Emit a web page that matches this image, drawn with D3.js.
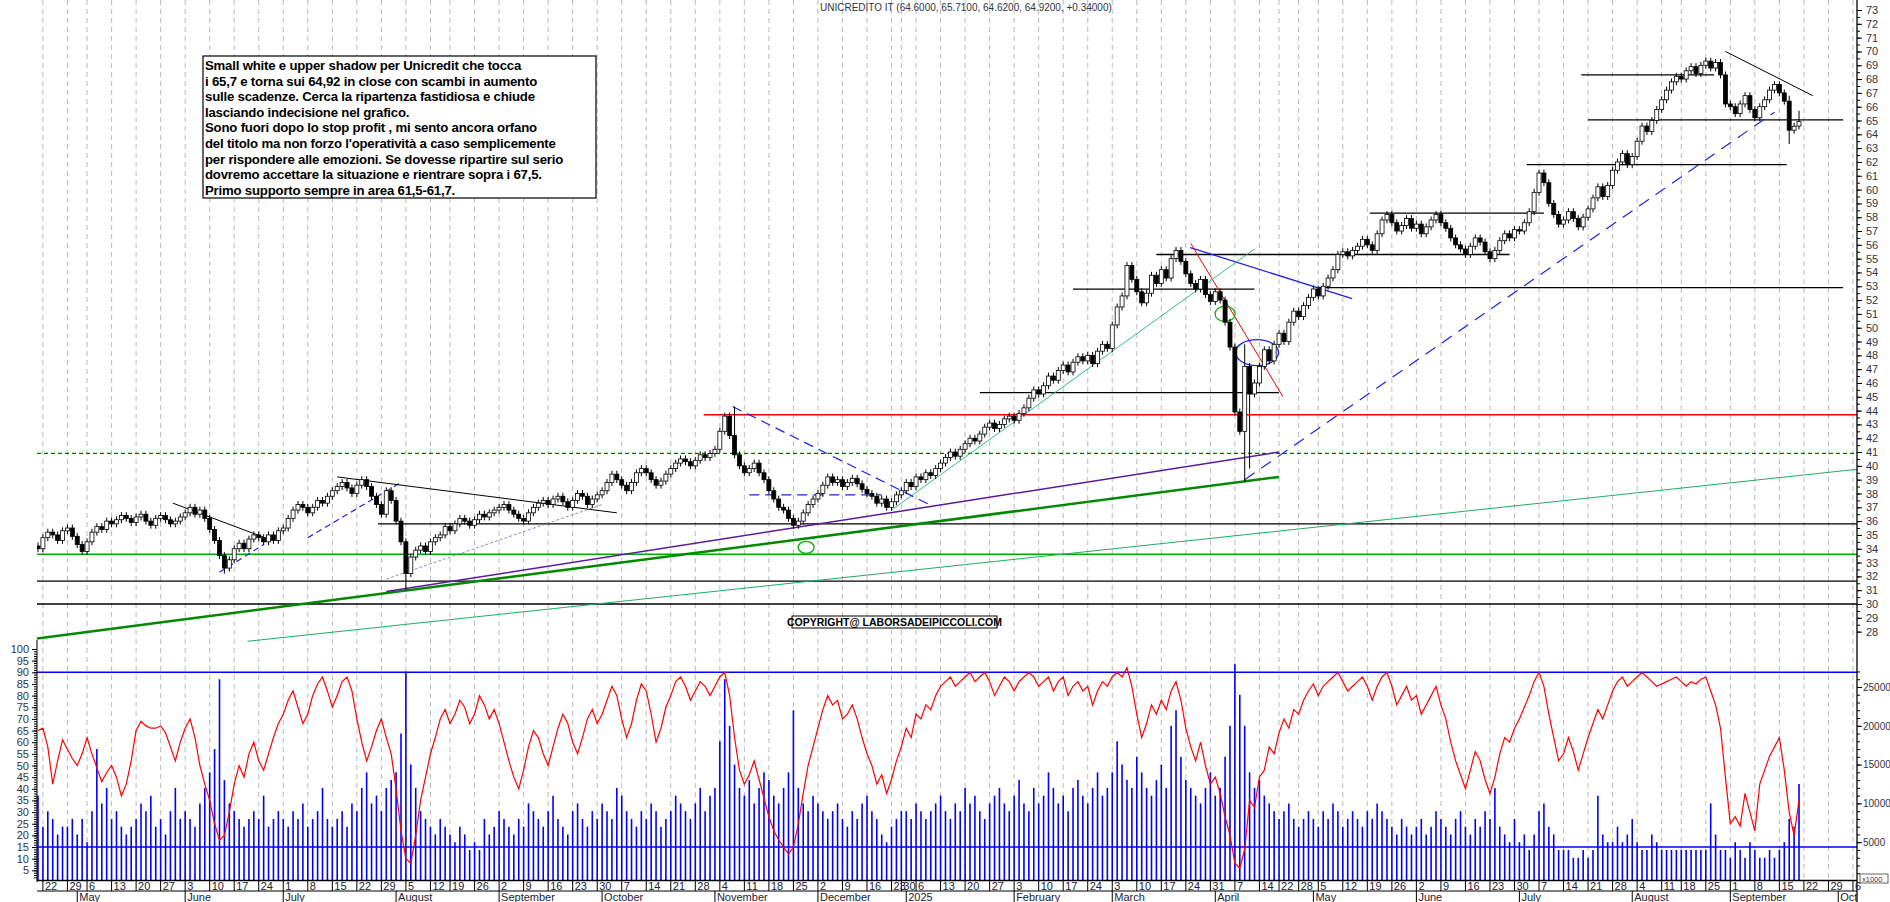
<!DOCTYPE html>
<html><head><meta charset="utf-8">
<script src="https://cdn.jsdelivr.net/npm/d3@7/dist/d3.min.js"></script>
<style>body{margin:0;background:#fff}svg{display:block;font-family:"Liberation Sans",Arial,sans-serif}</style>
</head><body><svg id="c" width="1890" height="902"></svg>
<script>
// ---- data ----
const closes = [
34.0,34.8,35.2,35.0,34.6,35.3,35.5,34.9,
34.3,33.8,34.5,35.2,35.6,35.4,36.0,35.8,36.1,36.4,36.2,35.9,36.3,36.5,36.0,35.7,36.2,36.4,36.1,35.8,36.0,36.3,
36.6,37.0,36.5,36.8,36.2,35.4,34.6,33.5,32.6,33.2,34.0,34.4,34.0,34.7,35.0,34.8,34.5,35.0,34.6,35.3,
35.5,36.2,36.8,37.2,37.0,36.6,37.0,37.5,37.3,37.8,38.2,38.5,38.8,38.4,38.0,38.6,39.0,38.5,37.8,37.2,36.5,38.2,37.5,
36.0,34.5,32.2,33.4,33.9,34.2,33.8,34.5,34.8,35.0,35.6,35.3,35.8,36.2,36.0,35.7,36.1,36.5,36.3,36.6,36.8,
37.0,37.2,36.8,36.5,36.2,36.0,36.6,37.0,37.3,37.5,37.2,37.6,37.8,37.4,37.0,37.5,38.0,37.8,37.2,37.6,37.9,
38.2,38.8,39.4,39.0,38.6,38.2,38.8,39.5,39.8,39.5,39.0,38.6,38.9,39.4,39.8,40.2,40.5,40.3,40.0,40.4,40.8,40.6,40.9,
41.2,42.5,43.6,42.2,40.8,40.0,39.5,39.8,40.2,39.5,39.0,38.2,37.6,37.0,36.8,36.2,35.7,36.0,36.6,37.2,37.6,
38.0,38.6,39.2,38.8,39.0,38.5,38.8,39.1,38.7,38.3,38.0,37.8,37.3,37.6,37.0,37.4,37.9,38.2,
38.8,38.5,39.2,39.0,39.5,39.3,39.8,40.2,40.6,41.0,40.7,41.2,41.6,42.0,41.8,42.3,42.8,43.1,42.7,43.0,43.4,43.6,
43.3,43.8,44.2,44.9,45.5,45.2,45.8,46.5,46.2,46.9,47.3,46.8,47.5,47.9,47.6,48.0,47.4,48.3,48.8,48.5,
50.2,51.5,52.3,54.5,53.5,52.6,51.8,52.5,53.8,53.2,54.2,53.6,55.0,55.6,54.8,53.9,53.2,52.8,53.5,52.4,51.9,
52.6,52.0,50.4,48.6,43.9,42.5,47.2,45.2,46.0,47.2,48.4,47.6,48.8,49.6,49.0,50.4,51.2,50.8,51.6,52.2,
52.8,52.3,53.0,53.6,54.2,55.3,55.5,55.2,55.6,55.9,56.4,56.0,55.6,56.8,57.8,58.2,57.6,57.0,57.4,57.9,57.2,
57.5,56.8,57.3,57.8,58.2,57.6,57.2,56.5,56.0,55.7,55.3,55.9,56.5,56.2,55.5,55.0,55.6,56.3,56.8,56.5,57.1,
57.0,57.6,58.4,59.8,61.2,60.5,59.0,58.2,57.5,57.8,58.4,57.9,57.3,58.0,58.6,59.4,60.2,59.5,60.3,61.4,62.0,62.6,61.8,
62.4,63.5,64.6,64.2,65.0,65.8,66.5,67.2,67.8,68.2,68.0,68.6,68.9,68.4,69.0,69.3,68.8,69.2,68.3,66.2,
66.0,65.5,66.2,66.8,65.8,65.2,66.0,66.5,67.2,67.6,67.0,66.4,64.3,64.58,64.92];
// extra wick extremes for notable sessions: [index, high, low]
const wickOverrides = [[75,34.6,31.0],[246,48.8,38.8],[247,44.4,39.8],[357,66.8,63.3],[359,65.71,64.4],[142,44.3,42.0],[38,33.6,32.2]];
const volumes = [ // thousands
11,7,9,8,6,7,7,8,
6,8,5,9,17,10,12,8,9,7,6,7,8,10,9,11,7,8,6,9,12,8,
9,8,7,10,12,14,17,26,13,10,9,8,7,8,9,8,11,7,8,9,
8,7,9,8,10,7,8,9,12,8,7,8,9,7,10,9,12,14,10,11,9,12,13,
14,19,27,15,12,9,8,7,6,8,7,6,5,7,6,4,5,4,8,6,7,
9,8,7,6,8,7,10,9,8,7,9,11,8,7,6,9,10,8,7,9,8,
10,9,8,12,11,9,8,7,9,8,10,9,7,8,9,11,10,9,8,10,12,9,11,
12,18,26,20,15,12,11,13,10,12,14,13,11,10,12,14,22,12,10,9,11,
10,9,8,9,10,8,7,9,8,10,11,9,8,6,5,7,8,9,
9,8,10,9,8,9,10,11,9,8,10,9,12,10,11,9,8,10,11,12,10,9,
11,13,10,9,12,10,11,14,12,10,11,9,12,13,11,10,12,14,11,12,
14,18,15,13,12,16,14,12,11,13,15,12,20,22,16,13,12,11,10,12,14,
11,12,16,20,28,24,20,14,12,13,11,10,9,8,9,10,8,7,8,9,
8,7,9,8,10,9,7,8,9,8,7,9,8,10,9,8,7,6,8,7,6,
7,8,6,7,9,8,7,6,8,9,7,6,8,7,9,8,12,7,6,5,8,
5,6,4,6,9,10,7,6,4,4,4,3,3,4,3,4,11,6,5,5,7,5,6,
8,5,4,4,6,5,4,4,4,4,4,4,4,4,4,4,10,6,4,4,
3,5,4,3,5,4,3,3,4,3,4,5,8,7,12.5];
const oscillator = [
65,66,58,42,52,61,57,53,
50,55,62,55,49,43,47,50,45,37,42,52,65,69,67,66,66,67,64,58,52,60,
66,70,62,50,42,35,25,18,20,30,42,50,45,55,60,52,48,55,62,68,
72,78,82,75,68,72,80,85,88,82,75,80,86,88,82,70,60,52,58,65,70,62,55,
40,22,10,8,20,35,45,55,62,70,74,68,72,78,75,68,72,80,76,70,74,
68,60,52,45,40,48,58,65,62,55,50,58,66,72,68,60,55,62,70,74,68,
72,78,84,80,70,62,68,78,85,82,72,60,66,75,80,86,88,84,78,82,86,84,80,
84,88,90,80,62,48,42,46,52,44,36,28,22,18,15,12,15,25,38,50,58,
66,74,80,76,78,70,72,76,70,62,55,50,42,46,38,44,52,58,
66,62,72,70,76,74,80,84,86,88,84,86,88,90,86,88,90,86,80,84,88,86,
82,86,88,90,88,84,86,88,82,86,88,80,84,86,82,84,76,82,86,84,
88,90,88,92,84,72,62,68,76,72,78,74,82,86,78,66,58,52,60,50,42,
45,38,28,20,8,6,14,35,32,45,48,58,55,64,70,66,74,72,78,82,
85,80,84,86,88,90,86,82,84,86,88,84,78,84,88,90,84,76,80,84,78,
80,72,76,80,84,76,70,60,52,46,40,48,56,52,44,38,45,55,62,60,66,
70,75,80,86,90,84,72,62,52,55,62,56,48,55,62,68,74,70,76,82,86,88,84,
86,88,90,88,86,84,85,86,87,88,86,84,86,85,87,88,82,76,66,45,
25,28,24,38,30,22,42,48,54,58,62,48,30,20,35];
const priceTicks = d3.range(28,74);
const oscTicks = d3.range(5,101,5);
const volTicks = [5000,10000,15000,20000,25000];
const monthNames = ["2025","February","March","April","May","June","July","August","September","October","November","December"];
const holidays = ["2024-05-01","2024-08-15","2024-12-24","2024-12-25","2024-12-26","2024-12-31","2025-01-01","2025-04-18","2025-04-21","2025-05-01","2025-08-15"];
const title = "UNICREDITO IT (64.6000, 65.7100, 64.6200, 64.9200, +0.34000)";
const noteLines = ["Small white e upper shadow per Unicredit che tocca","i 65,7 e torna sui 64,92 in close con scambi in aumento","sulle scadenze. Cerca la ripartenza fastidiosa  e chiude","lasciando indecisione nel grafico.","Sono fuori dopo lo stop profit , mi sento ancora orfano","del titolo ma non forzo l'operatività a caso semplicemente","per rispondere alle emozioni. Se dovesse ripartire sul serio","dovremo accettare la situazione e rientrare sopra i 67,5.","Primo supporto sempre in area 61,5-61,7."];
const END = 373;
// annotation lines: [i1,p1,i2,p2,color,width,dash]
const trendLines = [
 [-1,30,END,30,"#000",1.3,null],[-1,31.65,END,31.65,"#000",1.3,null],
 [-1,33.6,END,33.6,"#0a0",1.3,null],[-1,40.9,END,40.9,"#070",1.2,"4,3"],
 [69.3,35.8,END,35.8,"#000",1.3,null],[135.7,43.7,END,43.7,"#e00",1.3,null],
 [42.7,27.3,END,39.75,"#2a6",1,null],[-1,27.5,253,39.2,"#080",2.5,null],
 [71,30.9,253,41.0,"#5a1a9a",1.5,null],
 [192,45.3,253,45.3,"#000",1.3,null],[211,52.8,248,52.8,"#000",1.3,null],
 [260.5,52.9,368,52.9,"#000",1.3,null],[228,55.3,300,55.3,"#000",1.3,null],
 [271.5,58.3,307,58.3,"#000",1.3,null],[303.5,61.8,356.5,61.8,"#000",1.3,null],
 [316,65.05,368,65.05,"#000",1.3,null],[314.6,68.3,341.7,68.3,"#000",1.3,null],
 [344,70.0,361.8,66.8,"#000",1,null],
 [246,39.0,354,65.6,"#22d",1.2,"12,8"],
 [234.9,55.8,267.9,52.1,"#22d",1.3,null],[235,56.1,253.8,45.0,"#e00",1,null],
 [174,36.8,248,55.7,"#3b8",1,null],
 [27.5,37.3,47,34.7,"#000",1,null],[37,32.3,46,34.3,"#22d",1.2,"6,4"],
 [55,34.8,74,38.8,"#22d",1.2,"6,4"],[61,39.2,118,36.6,"#000",1,null],
 [71,31.8,115,37.2,"#67a",0.8,"3,2"],[141.6,44.3,181.7,37.2,"#22d",1.2,"10,6"],
 [145,37.9,172,37.9,"#22d",1.2,"10,6"]];
const ellipses = [[242,51.0,10,7.5,"#1a1"],[248.5,48.2,21.5,13,"#22d"],[156.6,34.1,8,6,"#1a1"]];

// ---- build dates ----
const fmt = d3.timeFormat("%Y-%m-%d");
const dates = [];
for (let d = new Date(2024,3,19); dates.length < END+2; d = d3.timeDay.offset(d,1)) {
  const wd = d.getDay();
  if (wd===0||wd===6||holidays.includes(fmt(d))) continue;
  dates.push(new Date(d));
}
const svg = d3.select("#c");
const L=37,R=1857;
const x = d3.scaleLinear().domain([0,359]).range([38,1799]);
const y = d3.scaleLinear().domain([30,73]).range([604,10]);
const yo = d3.scaleLinear().domain([0,100]).range([882,649]);
const yv = d3.scaleLinear().domain([0,25000]).range([881,687]);

// weekly grid
const weekStarts = d3.range(1,dates.length).filter(i=>x(i)<R && +d3.timeMonday.floor(dates[i]) !== +d3.timeMonday.floor(dates[i-1]));
svg.append("g").selectAll("line").data(weekStarts).join("line")
 .attr("x1",i=>x(i)).attr("x2",i=>x(i)).attr("y1",0).attr("y2",880)
 .attr("stroke","#bbb").attr("stroke-dasharray","5,4");

// clip
svg.append("clipPath").attr("id","pc").append("rect").attr("x",L).attr("y",0).attr("width",R-L).attr("height",642);
const pg = svg.append("g").attr("clip-path","url(#pc)");
const xi = i => i<0?L:x(i);
pg.selectAll("line.t").data(trendLines).join("line")
 .attr("x1",d=>xi(d[0])).attr("y1",d=>y(d[1])).attr("x2",d=>Math.min(R,xi(d[2]))).attr("y2",d=>y(d[3]))
 .attr("stroke",d=>d[4]).attr("stroke-width",d=>d[5]).attr("stroke-dasharray",d=>d[6]);
pg.selectAll("ellipse").data(ellipses).join("ellipse")
 .attr("cx",d=>x(d[0])).attr("cy",d=>y(d[1])).attr("rx",d=>d[2]).attr("ry",d=>d[3])
 .attr("fill","none").attr("stroke",d=>d[4]).attr("stroke-width",1.3);

// candles
const wo = new Map(wickOverrides.map(w=>[w[0],w]));
const candles = closes.map((c,i)=>{
  const o = i===0?34.2:(i===closes.length-1?64.6:closes[i-1]);
  let hi = Math.max(o,c)+0.25, lo = Math.min(o,c)-0.25;
  if (wo.has(i)) { hi = Math.max(hi,wo.get(i)[1]); lo = Math.min(lo,wo.get(i)[2]); }
  return {i,o,c,hi,lo};
});
const cg = pg.append("g");
cg.selectAll("line").data(candles).join("line")
 .attr("x1",d=>x(d.i)).attr("x2",d=>x(d.i)).attr("y1",d=>y(d.hi)).attr("y2",d=>y(d.lo)).attr("stroke","#000");
cg.selectAll("rect").data(candles).join("rect")
 .attr("x",d=>x(d.i)-2).attr("width",4)
 .attr("y",d=>y(Math.max(d.o,d.c))).attr("height",d=>Math.max(1,Math.abs(y(d.o)-y(d.c))))
 .attr("fill",d=>d.c>=d.o?"#fff":"#000").attr("stroke","#000").attr("stroke-width",0.8);

// lower panel
svg.append("g").selectAll("line").data(volumes).join("line")
 .attr("x1",(d,i)=>x(i)).attr("x2",(d,i)=>x(i)).attr("y1",881).attr("y2",d=>yv(d*1000))
 .attr("stroke","#00f").attr("stroke-width",1.6);
[90,15].forEach(v=>svg.append("line").attr("x1",L).attr("x2",R).attr("y1",yo(v)).attr("y2",yo(v)).attr("stroke","#00f").attr("stroke-width",1.5));
svg.append("path").datum(oscillator).attr("fill","none").attr("stroke","#f00").attr("stroke-width",1.2)
 .attr("d",d3.line().x((d,i)=>x(i)).y(d=>yo(d)));

// axes frame
svg.append("line").attr("x1",R).attr("x2",R).attr("y1",0).attr("y2",902).attr("stroke","#000").attr("stroke-width",1.3);
svg.append("line").attr("x1",L).attr("x2",L).attr("y1",640).attr("y2",882).attr("stroke","#000");
const ra = svg.append("g").attr("transform",`translate(${R},0)`);
ra.call(d3.axisRight(y).tickValues(priceTicks).tickSize(5).tickFormat(d3.format("d")))
 .call(g=>g.select(".domain").remove());
ra.append("g").call(d3.axisRight(y).tickValues(d3.range(28,73.5,0.5)).tickSize(3).tickFormat(""))
 .call(g=>g.select(".domain").remove());
ra.selectAll("text").attr("font-size",11).attr("fill","#334").attr("font-family","Liberation Sans").attr("x",9);
const la = svg.append("g").attr("transform",`translate(${L},0)`);
la.call(d3.axisLeft(yo).tickValues(oscTicks).tickSize(5).tickFormat(d3.format("d"))).call(g=>g.select(".domain").remove());
la.append("g").call(d3.axisLeft(yo).tickValues(d3.range(2,101,1)).tickSize(3).tickFormat("")).call(g=>g.select(".domain").remove());
la.selectAll("text").attr("font-size",11).attr("fill","#334").attr("font-family","Liberation Sans").attr("x",-8);
const va = svg.append("g").attr("transform",`translate(${R},0)`);
va.call(d3.axisRight(yv).tickValues(volTicks).tickSize(5).tickFormat(d3.format("d"))).call(g=>g.select(".domain").remove());
va.append("g").call(d3.axisRight(yv).tickValues(d3.range(1000,27001,1000)).tickSize(3).tickFormat("")).call(g=>g.select(".domain").remove());
va.selectAll("text").attr("font-size",10).attr("fill","#334").attr("font-family","Liberation Sans").attr("x",6);
svg.append("rect").attr("x",R+3).attr("y",874).attr("width",28).attr("height",9).attr("fill","#fff").attr("stroke","#000").attr("stroke-width",0.6);
svg.append("text").attr("x",R+5).attr("y",881.5).attr("font-size",7.5).attr("fill","#334").text("x1000");

// bottom axis
svg.append("line").attr("x1",L).attr("x2",R).attr("y1",880.5).attr("y2",880.5).attr("stroke","#000").attr("stroke-width",1.3);
svg.append("line").attr("x1",L).attr("x2",R).attr("y1",891).attr("y2",891).attr("stroke","#000");
const bx = svg.append("g");
bx.selectAll("line").data(weekStarts).join("line").attr("x1",i=>x(i)).attr("x2",i=>x(i)).attr("y1",880).attr("y2",891).attr("stroke","#000");
bx.selectAll("text").data(weekStarts).join("text").attr("x",i=>x(i)+2).attr("y",889.5)
 .attr("font-size",11).attr("fill","#223").text(i=>dates[i].getDate());
const monthStarts = d3.range(1,dates.length).filter(i=>x(i)<R && dates[i].getMonth()!==dates[i-1].getMonth());
const mx = svg.append("g");
mx.selectAll("line").data(monthStarts).join("line").attr("x1",i=>x(i)).attr("x2",i=>x(i)).attr("y1",891).attr("y2",902).attr("stroke","#000");
mx.append("clipPath").attr("id","mc").append("rect").attr("x",0).attr("y",880).attr("width",R).attr("height",22);
mx.append("g").attr("clip-path","url(#mc)").selectAll("text").data(monthStarts).join("text").attr("x",i=>x(i)+2).attr("y",901)
 .attr("font-size",11).attr("fill","#223").text(i=>monthNames[dates[i].getMonth()]);

svg.append("text").attr("x",820).attr("y",11).attr("font-size",10).attr("fill","#334").text(title);
svg.append("rect").attr("x",203).attr("y",56).attr("width",393).attr("height",142).attr("fill","#fff").attr("stroke","#000").attr("stroke-width",1.2);
svg.append("g").selectAll("text").data(noteLines).join("text").attr("x",205).attr("y",(d,i)=>70+i*15.6)
 .attr("font-size",13.2).attr("font-weight","bold").attr("letter-spacing",-0.2).attr("fill","#000").text(d=>d);
svg.append("rect").attr("x",792).attr("y",616).attr("width",205).attr("height",12).attr("fill","#fff").attr("stroke","#000").attr("stroke-width",1);
svg.append("text").attr("x",894.5).attr("y",626).attr("text-anchor","middle").attr("font-size",10.5).attr("font-weight","bold").text("COPYRIGHT@ LABORSADEIPICCOLI.COM");
</script></body></html>
